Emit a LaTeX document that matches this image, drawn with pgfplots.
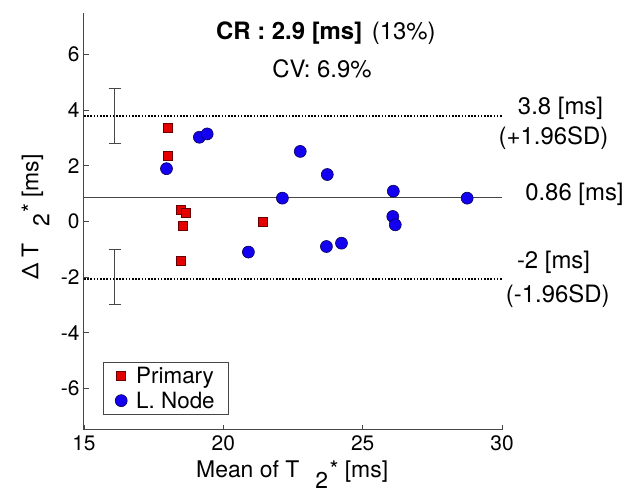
\documentclass[border=0pt]{standalone}
\usepackage{fontspec}
\setmainfont{TeX Gyre Heros}
\usepackage{pgfplots}
\pgfplotsset{compat=1.18}

\definecolor{primred}{RGB}{228,0,0}
\definecolor{nodeblue}{RGB}{20,0,240}
\definecolor{axgray}{RGB}{70,70,70}

% MATLAB-style T_2^* with a large, low subscript
\newcommand{\Tstar}{T\hspace{16bp}\raisebox{-11bp}{2}\hspace{1.5bp}*}

\begin{document}
\begin{tikzpicture}
\begin{axis}[
  scale only axis,
  width=418bp, height=417bp,
  xmin=15, xmax=30, ymin=-7.5, ymax=7.5,
  axis lines*=left,
  axis line style={axgray, line width=1bp},
  xtick={15,20,25,30},
  ytick={-6,-4,-2,0,2,4,6},
  yticklabels={-6,-4,-2,0,2,4,6},
  tick align=inside,
  major tick length=5bp,
  tick style={axgray, line width=0.8bp},
  tick label style={font=\fontsize{21}{25}\selectfont},
  /pgf/number format/assume math mode=true,
  xticklabel style={yshift=-2bp},
  yticklabel style={xshift=-1bp},
  xlabel={Mean of \Tstar{} [ms]},
  ylabel={Δ \Tstar{} [ms]},
  xlabel style={font=\fontsize{23}{27}\selectfont, at={(axis description cs:0.498,0)}, anchor=base, yshift=-48bp},
  ylabel style={font=\fontsize{23}{27}\selectfont, at={(axis description cs:-0.109,0.511)}, anchor=base, rotate=0},
  clip=false,
  legend style={at={(axis description cs:0.045,0.036)}, anchor=south west,
    font=\fontsize{22.5}{27}\selectfont, draw=axgray, line width=0.8bp,
    inner xsep=12bp, inner ysep=3bp, row sep=3bp, column sep=7bp},
  legend cell align=left,
]
% limits of agreement and mean difference
\addplot[forget plot, black, line width=1.8bp, dash pattern=on 1.6bp off 1.6bp] coordinates {(15,3.8)(30,3.8)};
\addplot[forget plot, black, line width=1.8bp, dash pattern=on 1.6bp off 1.6bp] coordinates {(15,-2.06)(30,-2.06)};
\addplot[forget plot, axgray, line width=1.3bp] coordinates {(15,0.86)(30,0.86)};
% confidence intervals of the limits
\addplot[forget plot, draw=none, mark=none, axgray,
  error bars/.cd, y dir=both, y explicit,
  error mark options={axgray, line width=0.8bp, mark size=6bp, rotate=90},
  error bar style={axgray, line width=0.8bp}]
  coordinates {(16.1,3.8) +- (0,1.0) (16.1,-2.0) +- (0,1.0)};
% Primary
\addplot[only marks, mark=square*, mark size=4.5bp,
  mark options={fill=primred, draw=primred!45!black, line width=0.6bp}]
  coordinates {
  (18.0,3.37) (18.0,2.36) (18.48,0.42) (18.65,0.33) (18.54,-0.16)
  (21.43,0.0) (18.48,-1.43)
};
\addlegendentry{Primary}
% L. Node
\addplot[only marks, mark=*, mark size=6bp,
  mark options={fill=nodeblue, draw=nodeblue!35!black, line width=0.6bp}]
  coordinates {
  (17.96,1.90) (19.14,3.03) (19.42,3.15) (22.76,2.52) (22.12,0.84)
  (20.90,-1.10) (23.73,1.69) (26.10,1.09) (28.75,0.84) (26.08,0.18)
  (26.17,-0.12) (23.70,-0.90) (24.24,-0.78)
};
\addlegendentry{L. Node}
\node[font=\fontsize{24}{28}\selectfont] at (axis cs:23.68,6.76) {\textbf{CR : 2.9 [ms]}\hspace{3bp} (13\%)};
\node[font=\fontsize{24}{28}\selectfont] at (axis cs:23.54,5.5) {CV: 6.9\%};
\node[font=\fontsize{24}{28}\selectfont] at (axis cs:32.1,4.06) {3.8 [ms]};
\node[font=\fontsize{24}{28}\selectfont] at (axis cs:31.85,2.99) {(+1.96SD)};
\node[font=\fontsize{24}{28}\selectfont] at (axis cs:32.6,0.97) {0.86 [ms]};
\node[font=\fontsize{24}{28}\selectfont] at (axis cs:31.85,-1.47) {-2 [ms]};
\node[font=\fontsize{24}{28}\selectfont] at (axis cs:32.0,-2.70) {(-1.96SD)};
\coordinate (bl) at (rel axis cs:0,0);
\coordinate (tr) at (rel axis cs:1,1);
\end{axis}
\path (bl) ++(-84bp,-64bp) coordinate (a);
\path (tr) ++(132bp,13bp) coordinate (b);
\path (a) rectangle (b);
\end{tikzpicture}
\end{document}
